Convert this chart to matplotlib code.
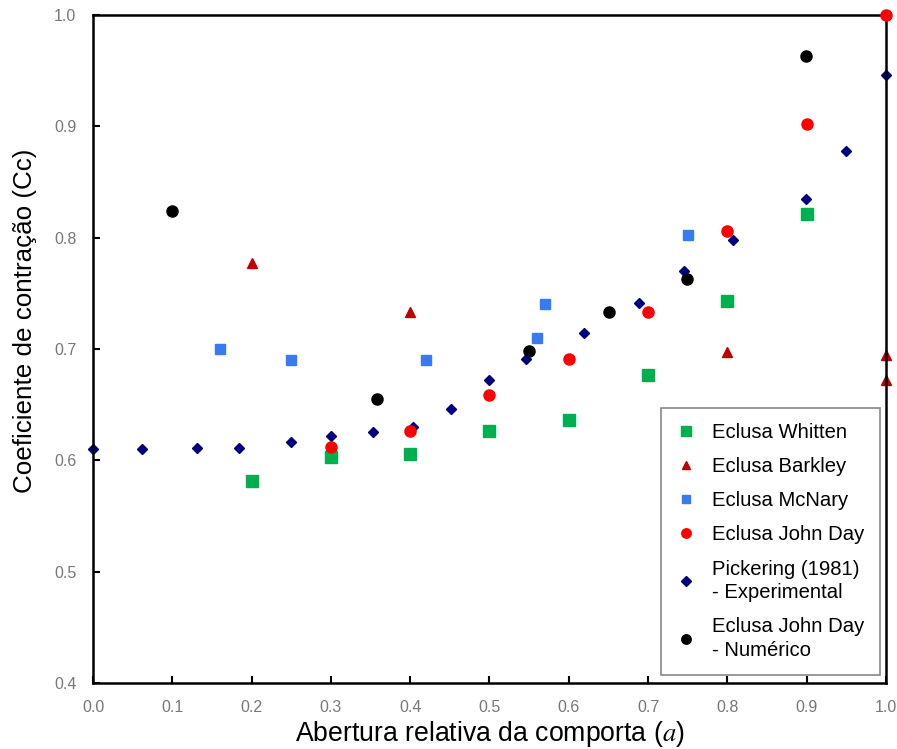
import numpy as np
import matplotlib
matplotlib.use("Agg")
import matplotlib.pyplot as plt

plt.rcParams['font.family'] = ['Liberation Sans', 'DejaVu Sans']
plt.rcParams['mathtext.fontset'] = 'stix'

# Eclusa Whitten
whitten_x = [0.2, 0.3, 0.4, 0.5, 0.6, 0.7, 0.8, 0.9]
whitten_y = [0.581, 0.603, 0.606, 0.626, 0.636, 0.677, 0.743, 0.821]

# Eclusa Barkley
barkley_x = [0.2, 0.4, 0.8, 1.0, 1.0]
barkley_y = [0.777, 0.733, 0.697, 0.695, 0.672]

# Eclusa McNary
mcnary_x = [0.16, 0.25, 0.42, 0.56, 0.57, 0.75]
mcnary_y = [0.700, 0.690, 0.690, 0.710, 0.740, 0.802]

# Eclusa John Day (prototipo)
johnday_x = [0.3, 0.4, 0.5, 0.6, 0.7, 0.8, 0.9, 1.0]
johnday_y = [0.612, 0.626, 0.659, 0.691, 0.733, 0.806, 0.902, 1.0]

# Pickering (1981) experimental
pick_x = [0.0, 0.062, 0.131, 0.184, 0.25, 0.30, 0.353, 0.404, 0.451, 0.50,
          0.546, 0.619, 0.689, 0.745, 0.807, 0.899, 0.950, 1.0]
pick_y = [0.610, 0.610, 0.611, 0.611, 0.616, 0.622, 0.625, 0.630, 0.646, 0.672,
          0.691, 0.714, 0.741, 0.770, 0.798, 0.835, 0.878, 0.946]

# Eclusa John Day numerico
num_x = [0.1, 0.358, 0.55, 0.651, 0.749, 0.899]
num_y = [0.824, 0.655, 0.698, 0.733, 0.763, 0.963]

xticks = np.arange(0, 1.01, 0.1)
yticks = np.arange(0.4, 1.01, 0.1)

fig = plt.figure(figsize=(8.97, 7.49), dpi=100)
ax = fig.add_axes([0.1037, 0.0881, 0.884, 0.892])

ax.plot(whitten_x, whitten_y, 's', c='#00b050', ms=8, ls='none', label='Eclusa Whitten', clip_on=False)
ax.plot(barkley_x, barkley_y, '^', c='#c00000', ms=7, ls='none', label='Eclusa Barkley', clip_on=False)
ax.plot(mcnary_x, mcnary_y, 's', c='#3a7af0', ms=7, ls='none', label='Eclusa McNary', clip_on=False)
ax.plot(johnday_x, johnday_y, 'o', c='#ff0000', ms=8, ls='none', label='Eclusa John Day', clip_on=False, zorder=3)
ax.plot(pick_x, pick_y, 'D', c='#000080', ms=5.5, ls='none', label='Pickering (1981)\n- Experimental', clip_on=False)
ax.plot(num_x, num_y, 'o', c='black', ms=8, ls='none', label='Eclusa John Day\n- Numérico', clip_on=False)

ax.set_xlim(0, 1.0)
ax.set_ylim(0.4, 1.0)
ax.set_xticks(xticks)
ax.set_yticks(yticks)
ax.set_xticklabels(['%.1f' % v for v in xticks])
ax.set_yticklabels(['%.1f' % v for v in yticks])
ax.tick_params(direction='in', length=5, width=1.5, labelsize=11.5, labelcolor='#777777', pad=12)

for s in ax.spines.values():
    s.set_linewidth(1.8)

ax.set_xlabel(r'Abertura relativa da comporta ($a$)', fontsize=19.2, labelpad=3)
ax.set_ylabel('Coeficiente de contração (Cc)', fontsize=18.7)
ax.yaxis.set_label_coords(-0.071, 0.542)

leg = ax.legend(loc='lower right', bbox_to_anchor=(0.9924, 0.012), borderaxespad=0,
                fontsize=14.6, fancybox=False, edgecolor='#888888', framealpha=1,
                handlelength=1.0, handletextpad=0.8, labelspacing=0.75,
                borderpad=0.75, numpoints=1, markerscale=0.85)
leg.get_frame().set_linewidth(1.2)
for t in leg.get_texts():
    t.set_linespacing(1.3)

plt.savefig('out.png', dpi=100)
